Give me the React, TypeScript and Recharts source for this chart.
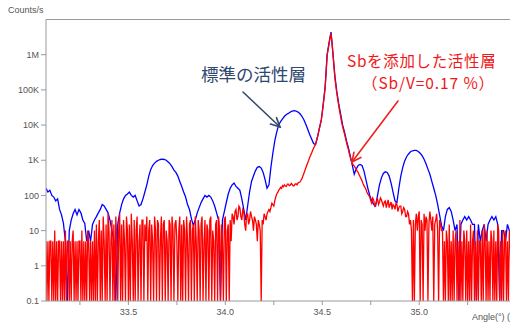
import React from "react";
import { LineChart, Line, XAxis, YAxis, ReferenceLine } from "recharts";

// scan grids (deg): the doped curve was recorded with a finer step
const SCAN_START = 33.075;
const STANDARD_STEP = 0.01;
const DOPED_STEP = 0.005;

// counts/s, standard active layer
const standardLayer = [
  160, 125, 140, 100, 90, 70, 80, 40, 28, 16,
  5, 0.1, 10, 20, 30, 40, 28, 40, 32, 20,
  16, 5, 10, 5, 15, 20, 25, 32, 40, 55,
  50, 40, 32, 20, 10, 5, 0.1, 15, 32, 55,
  80, 100, 110, 125, 100, 90, 100, 70, 50, 55,
  80, 125, 200, 355, 540, 710, 830, 930, 1000, 1050,
  1070, 1050, 1000, 890, 790, 660, 525, 450, 355, 250,
  180, 125, 90, 55, 40, 22, 14, 20, 32, 45,
  63, 80, 100, 90, 100, 90, 70, 50, 32, 20,
  0.1, 20, 35, 63, 110, 160, 200, 225, 180, 160,
  140, 80, 40, 20, 50, 125, 250, 355, 500, 630,
  660, 600, 450, 280, 160, 200, 630, 1580, 3550, 6300,
  10000, 12600, 15100, 17800, 20000, 21400, 23400, 25100, 25700, 25100,
  23400, 20900, 17800, 14100, 10500, 7600, 5400, 4000, 3000, 2800,
  4500, 8000, 14000, 40000, 126000, 1000000, 2200000, 4400000, 1100000, 250000,
  90000, 40000, 20000, 10000, 6300, 3550, 2240, 1260, 710, 400,
  560, 710, 760, 710, 500, 280, 160, 100, 70, 56,
  50, 100, 200, 316, 420, 470, 450, 355, 225, 125,
  70, 63, 160, 355, 630, 955, 1260, 1510, 1740, 1860,
  1900, 1900, 1780, 1580, 1350, 1070, 790, 560, 400, 250,
  160, 100, 56, 28, 14, 10, 25, 40, 45, 35,
  20, 10, 15, 0.1, 15, 20, 25, 20, 25, 20,
  15, 15, 0.1, 15, 5, 10, 15, 5, 15, 20,
  25, 20, 25, 15, 0.1, 10, 10, 5, 15, 10,
  10,
];

// counts/s, Sb-doped active layer (Sb/V = 0.17 %); 0.1 = no counts
const sbDopedLayer = [
  // 33.075 - 33.33
  5, 0.1, 5, 0.1, 5, 5, 0.1, 5, 0.1, 10,
  0.1, 5, 0.1, 5, 5, 0.1, 5, 0.1, 5, 0.1,
  10, 0.1, 5, 5, 0.1, 5, 0.1, 5, 10, 0.1,
  5, 0.1, 5, 0.1, 5, 5, 0.1, 10, 0.1, 5,
  0.1, 5, 0.1, 10, 5, 0.1, 5, 0.1, 5, 0.1,
  10, 0.1,
  // 33.335 - 33.57
  15, 0.1, 5, 20, 0.1, 10, 0.1, 25, 5, 0.1,
  15, 0.1, 30, 10, 0.1, 5, 20, 0.1, 15, 0.1,
  25, 5, 0.1, 10, 30, 0.1, 15, 0.1, 20, 5,
  0.1, 25, 10, 0.1, 15, 0.1, 30, 5, 0.1, 20,
  0.1, 10, 25, 0.1, 5, 15, 0.1, 20,
  // 33.575 - 34.035
  20, 0.1, 15, 5, 25, 0.1, 10, 20, 0.1, 15,
  5, 0.1, 25, 10, 0.1, 20, 15, 0.1, 5, 25,
  0.1, 15, 20, 0.1, 10, 5, 0.1, 20, 15, 0.1,
  25, 10, 0.1, 15, 20, 5, 0.1, 10, 25, 0.1,
  15, 0.1, 20, 10, 0.1, 25, 5, 0.1, 15, 20,
  0.1, 10, 15, 0.1, 25, 5, 0.1, 20, 10, 0.1,
  15, 25, 0.1, 5, 20, 0.1, 15, 10, 0.1, 20,
  25, 0.1, 10, 5, 0.1, 15, 20, 0.1, 25, 10,
  0.1, 15, 5, 0.1, 20, 25, 0.1, 10, 15, 0.1,
  20, 5, 30,
  // 34.04 - 34.23
  25, 15, 35, 40, 20, 25, 50, 45, 25, 20,
  40, 35, 15, 10, 30, 30, 15, 20, 35, 25,
  20, 10, 25, 20, 15, 5, 20, 15, 10, 0.1,
  20, 15, 30, 25, 20, 30, 35, 40, 35,
  // 34.235 - 34.465
  45, 60, 55, 50, 70, 90, 110, 120, 140, 150,
  170, 160, 190, 175, 200, 185, 180, 210, 210, 190,
  195, 220, 205, 185, 190, 210, 215, 200, 225, 235,
  240, 265, 300, 355, 420, 500, 600, 720, 850, 1000,
  1200, 1400, 1600, 1900, 2200, 2500, 2800,
  // 34.47 - 34.655
  3500, 4500, 6000, 8000, 10500, 14000, 22000, 38000, 65000, 120000,
  330000, 950000, 1400000, 2000000, 3000000, 4000000, 2300000, 1050000, 480000, 220000,
  130000, 80000, 52000, 35000, 24000, 17000, 12000, 9000, 7000, 5500,
  4200, 3200, 2500, 2000, 1500, 1200, 950, 800,
  // 34.66 - 34.965
  740, 680, 620, 560, 500, 450, 390, 340, 300, 260,
  220, 190, 170, 150, 125, 110, 100, 90, 70, 60,
  85, 75, 50, 55, 70, 80, 55, 65, 85, 75,
  60, 50, 65, 70, 45, 60, 75, 45, 55, 65,
  40, 55, 50, 40, 60, 55, 35, 45, 50, 50,
  30, 35, 45, 40, 25, 25, 35, 30, 15, 20,
  10, 0.1,
  // 34.97 - 35.115
  20, 0.1, 15, 30, 10, 25, 35, 0.1, 20, 15,
  0.1, 30, 10, 25, 20, 0.1, 15, 35, 20, 10,
  25, 0.1, 15, 20, 30, 10, 0.1, 20, 15, 10,
  // 35.12 - 35.475
  10, 0.1, 5, 0.1, 10, 5, 0.1, 15, 0.1, 5,
  0.1, 10, 0.1, 5, 10, 0.1, 5, 0.1, 20, 0.1,
  5, 0.1, 10, 5, 0.1, 10, 0.1, 5, 0.1, 15,
  0.1, 5, 10, 0.1, 5, 0.1, 10, 0.1, 5, 5,
  0.1, 10, 0.1, 15, 5, 0.1, 10, 0.1, 5, 0.1,
  10, 5, 0.1, 10, 0.1, 5, 0.1, 15, 10, 0.1,
  5, 0.1, 10, 0.1, 5, 10, 0.1, 5, 0.1, 10,
  5, 0.1,
];

const angleTicks = [33.25, 33.5, 33.75, 34.0, 34.25, 34.5, 34.75, 35.0, 35.25];
const countTicks = [0.1, 1, 10, 100, 1000, 10000, 100000, 1000000];
const countLabels = ["0.1", "1", "10", "100", "1K", "10K", "100K", "1M"];

const toScan = (counts: number[], step: number) =>
  counts.map((v, i) => ({ angle: +(SCAN_START + i * step).toFixed(3), counts: v }));

const standardRows = toScan(standardLayer, STANDARD_STEP);
const dopedRows = toScan(sbDopedLayer, DOPED_STEP);

const AXIS_FONT = "'Liberation Sans', Arial, sans-serif";
const JP_FONT = "'Noto Sans CJK JP', sans-serif";

const AngleTick = ({ x, y, payload }: any) => {
  const v = payload.value as number;
  // only half-degree ticks carry a label
  if (Math.abs(v * 2 - Math.round(v * 2)) > 1e-6) return <g />;
  return (
    <text x={x} y={y} dy={8} textAnchor="middle" fontSize={9} fill="#555" fontFamily={AXIS_FONT}>
      {v.toFixed(1)}
    </text>
  );
};

const Arrow = ({ x1, y1, x2, y2, color }: { x1: number; y1: number; x2: number; y2: number; color: string }) => {
  const a = Math.atan2(y2 - y1, x2 - x1);
  const len = 10;
  const spread = 0.45;
  const p1 = [x2 - len * Math.cos(a - spread), y2 - len * Math.sin(a - spread)];
  const p2 = [x2 - len * Math.cos(a + spread), y2 - len * Math.sin(a + spread)];
  return (
    <g stroke={color} strokeWidth={1.6} fill="none" strokeLinecap="round">
      <line x1={x1} y1={y1} x2={x2} y2={y2} />
      <path d={`M${p1[0]},${p1[1]} L${x2},${y2} L${p2[0]},${p2[1]}`} />
    </g>
  );
};

export default function App() {
  return (
    <div style={{ position: "fixed", left: 0, top: 0, width: 510, height: 325, overflow: "hidden", background: "#fff" }}>
      <LineChart width={521} height={325} margin={{ top: 19.5, right: 0, bottom: 0, left: 0 }}>
        <XAxis
          dataKey="angle"
          type="number"
          domain={[33.075, 35.525]}
          ticks={angleTicks}
          tick={<AngleTick />}
          tickSize={4}
          height={24}
          stroke="#999"
          interval={0}
          allowDataOverflow
        />
        <YAxis
          scale="log"
          domain={[0.1, 1e7]}
          ticks={countTicks}
          tickFormatter={(v: number) => countLabels[countTicks.indexOf(v)] ?? ""}
          tick={{ fontSize: 9, fill: "#555", fontFamily: AXIS_FONT }}
          tickSize={5}
          width={46}
          stroke="#999"
          interval={0}
          allowDataOverflow
        />
        <ReferenceLine y={1e7} stroke="#999" />
        <Line
          data={standardRows}
          dataKey="counts"
          type="linear"
          stroke="#0000ff"
          strokeWidth={1.3}
          dot={false}
          isAnimationActive={false}
        />
        <Line
          data={dopedRows}
          dataKey="counts"
          type="linear"
          stroke="#ff0000"
          strokeWidth={1.3}
          dot={false}
          isAnimationActive={false}
        />
      </LineChart>
      <svg width={510} height={325} style={{ position: "absolute", left: 0, top: 0, pointerEvents: "none" }}>
        <text x={8} y={13} fontSize={9} fill="#555" fontFamily={AXIS_FONT}>Counts/s</text>
        <text x={472} y={320} fontSize={9} fill="#555" fontFamily={AXIS_FONT}>Angle(°) (°)</text>
        <text x={201} y={81} fontSize={17.5} fill="#2e4870" fontFamily={JP_FONT}>標準の活性層</text>
        <Arrow x1={243} y1={92} x2={280} y2={127} color="#34496b" />
        <text x={347} y={66.8} fontSize={15.5} letterSpacing={0.65} fill="#f01818" fontFamily={JP_FONT}>Sbを添加した活性層</text>
        <text x={362} y={89.2} fontSize={15.5} letterSpacing={0.9} fill="#f01818" fontFamily={JP_FONT}>（Sb/V=0.17 %）</text>
        <Arrow x1={398} y1={101} x2={352} y2={162} color="#f02020" />
      </svg>
    </div>
  );
}
